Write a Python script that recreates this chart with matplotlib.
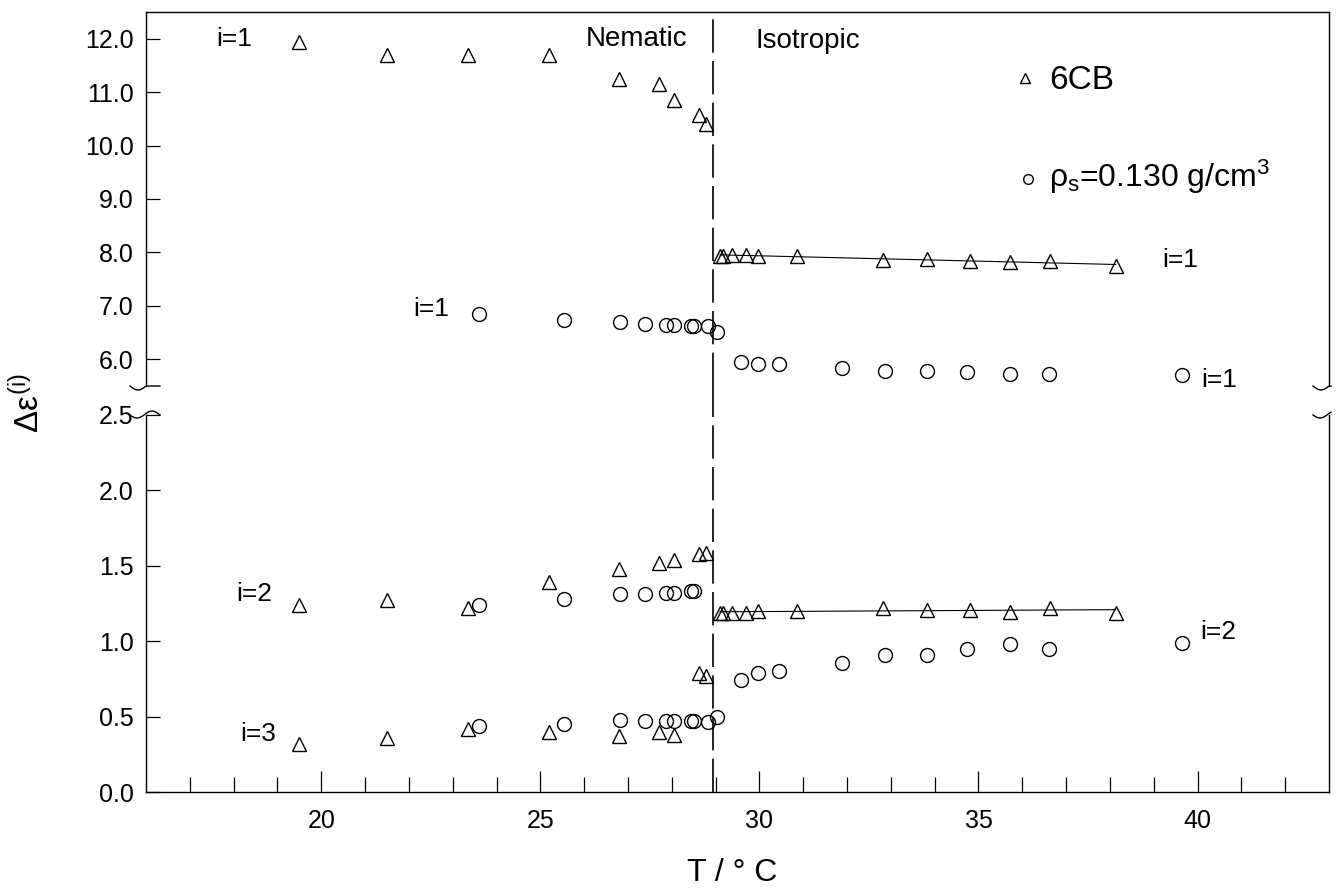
import numpy as np
import matplotlib
matplotlib.use("Agg")
import matplotlib.pyplot as plt
from matplotlib.lines import Line2D
from matplotlib.transforms import blended_transform_factory

plt.rcParams['font.family'] = ['Liberation Sans', 'DejaVu Sans']
plt.rcParams['mathtext.fontset'] = 'custom'
plt.rcParams['mathtext.rm'] = 'Liberation Sans'
plt.rcParams['mathtext.it'] = 'Liberation Sans'
plt.rcParams['mathtext.bf'] = 'Liberation Sans:bold'

# 6CB, nematic phase
T_nem_cb = [19.5, 21.5, 23.35, 25.2, 26.8, 27.7, 28.06, 28.63, 28.77]
cb_nem_1 = [11.93, 11.70, 11.70, 11.70, 11.25, 11.16, 10.86, 10.58, 10.41]
cb_nem_2 = [1.24, 1.27, 1.22, 1.39, 1.48, 1.52, 1.54, 1.58, 1.585]
cb_nem_3 = [0.32, 0.36, 0.42, 0.40, 0.37, 0.40, 0.38, 0.79, 0.77]

# 6CB, isotropic phase
T_iso_cb = [29.10, 29.16, 29.38, 29.70, 29.97, 30.86, 32.83, 33.83, 34.81, 35.72, 36.63, 38.13]
cb_iso_1 = [7.94, 7.94, 7.96, 7.96, 7.93, 7.93, 7.86, 7.87, 7.84, 7.83, 7.84, 7.74]
cb_iso_2 = [1.19, 1.19, 1.19, 1.19, 1.20, 1.20, 1.22, 1.21, 1.21, 1.195, 1.22, 1.19]

# rho_s = 0.130 g/cm3, nematic
T_nem_s = [23.61, 25.53, 26.82, 27.40, 27.86, 28.04, 28.45, 28.51, 28.83, 29.04]
s_nem_1 = [6.84, 6.74, 6.69, 6.66, 6.64, 6.64, 6.63, 6.63, 6.63, 6.52]
s_nem_2 = [1.24, 1.28, 1.31, 1.31, 1.32, 1.32, 1.33, 1.33]
s_nem_3 = [0.44, 0.45, 0.48, 0.47, 0.47, 0.47, 0.47, 0.47, 0.465, 0.50]

# rho_s = 0.130 g/cm3, isotropic
T_iso_s = [29.57, 29.97, 30.45, 31.89, 32.87, 33.83, 34.74, 35.72, 36.60, 39.65]
s_iso_1 = [5.95, 5.91, 5.91, 5.84, 5.78, 5.78, 5.76, 5.73, 5.73, 5.70]
s_iso_2 = [0.74, 0.79, 0.80, 0.855, 0.91, 0.91, 0.95, 0.98, 0.945, 0.99]

T_NI = 28.95

W, H = 1337, 889
fig = plt.figure(figsize=(W / 100, H / 100), dpi=100)

left = 146 / W
width = (1329 - 146) / W
ax_hi = fig.add_axes([left, 1 - 386 / H, width, (386 - 12) / H])
ax_lo = fig.add_axes([left, 1 - 792 / H, width, (792 - 415) / H])

tri = dict(marker='^', ms=10, mfc='none', mec='black', mew=1.0, ls='none')
circ = dict(marker='o', ms=10, mfc='none', mec='black', mew=1.0, ls='none')

# upper part (i=1)
ax_hi.plot(T_nem_cb, cb_nem_1, **tri)
ax_hi.plot(T_iso_cb, cb_iso_1, **tri)
ax_hi.plot(T_nem_s, s_nem_1, **circ)
ax_hi.plot(T_iso_s, s_iso_1, **circ)
k = np.polyfit(T_iso_cb, cb_iso_1, 1)
xs = np.array([T_iso_cb[0], T_iso_cb[-1]])
ax_hi.plot(xs, np.polyval(k, xs), color='black', lw=0.8)

# lower part (i=2, 3)
ax_lo.plot(T_nem_cb, cb_nem_2, **tri)
ax_lo.plot(T_nem_cb, cb_nem_3, **tri)
ax_lo.plot(T_iso_cb, cb_iso_2, **tri)
ax_lo.plot(T_nem_s[:len(s_nem_2)], s_nem_2, **circ)
ax_lo.plot(T_nem_s, s_nem_3, **circ)
ax_lo.plot(T_iso_s, s_iso_2, **circ)
k2 = np.polyfit(T_iso_cb, cb_iso_2, 1)
ax_lo.plot(xs, np.polyval(k2, xs), color='black', lw=0.8)

# transition line
dash = (0, (20, 5))
ax_hi.axvline(T_NI, color='black', lw=1.2, ls=dash)
tr = blended_transform_factory(ax_lo.transData, ax_lo.transAxes)
ax_lo.plot([T_NI, T_NI], [0, 1 + 29 / 377], transform=tr, color='black',
           lw=1.2, ls=dash, clip_on=False)

for ax in (ax_hi, ax_lo):
    ax.set_xlim(16, 43)
    for s in ax.spines.values():
        s.set_linewidth(1.0)
    ax.tick_params(axis='y', direction='in', length=10, width=0.9,
                   labelsize=18, pad=9, right=False)

ax_hi.set_ylim(5.5, 12.5)
ax_hi.set_yticks(np.arange(6, 12.01, 1))
ax_hi.set_yticklabels([f"{v:.1f}" for v in np.arange(6, 12.01, 1)])
ax_hi.spines['bottom'].set_visible(False)
ax_hi.tick_params(axis='x', bottom=False, labelbottom=False, top=False)

ax_lo.set_ylim(0, 2.5)
ax_lo.set_yticks(np.arange(0, 2.51, 0.5))
ax_lo.set_yticklabels([f"{v:.1f}" for v in np.arange(0, 2.51, 0.5)])
ax_lo.spines['top'].set_visible(False)
ax_lo.set_xticks([20, 25, 30, 35, 40])
ax_lo.set_xticks(np.arange(17, 43), minor=True)
ax_lo.tick_params(axis='x', which='major', direction='in', length=15,
                  width=0.9, labelsize=18, pad=12, top=False)
ax_lo.tick_params(axis='x', which='minor', direction='in', length=11,
                  width=0.9, top=False)

# break marks on both spines
def fig_line(px, py):
    fig.add_artist(Line2D(np.asarray(px) / W, 1 - np.asarray(py) / H,
                          color='black', lw=1.0, transform=fig.transFigure))

t = np.linspace(0, 1, 30)
for x0, ext in ((146, 14), (1329, 2)):
    xx = x0 - 16 + t * (16 + ext)
    fig_line(xx, 386 + 4 * np.sin(np.pi * np.clip((xx - (x0 - 16)) / 16, 0, 1)))
    fig_line(xx, 415 - 4 * np.sin(np.pi * np.clip((xx - (x0 - 2)) / 16, 0, 1))
             + 3 * np.sin(np.pi * np.clip((xx - (x0 - 16)) / 14, 0, 1)) * (xx < x0 - 2))

# annotations
lab = dict(fontsize=19, va='center')
ax_hi.text(17.6, 12.0, "i=1", **lab)
ax_hi.text(28.36, 12.0, "Nematic", fontsize=20, va='center', ha='right')
ax_hi.text(29.9, 11.96, "Isotropic", fontsize=20, va='center')
ax_hi.text(22.1, 6.95, "i=1", **lab)
ax_hi.text(39.2, 7.85, "i=1", **lab)
ax_hi.text(40.09, 5.61, "i=1", **lab)
ax_lo.text(18.05, 1.31, "i=2", **lab)
ax_lo.text(18.14, 0.385, "i=3", **lab)
ax_lo.text(40.07, 1.06, "i=2", **lab)

# legend
ax_hi.plot([36.07], [11.27], marker='^', ms=7, mfc='none', mec='black', mew=1.0)
ax_hi.text(36.61, 11.22, "6CB", fontsize=24, va='center')
ax_hi.plot([36.14], [9.38], marker='o', ms=7, mfc='none', mec='black', mew=1.0)
ax_hi.text(36.61, 9.42, r"$\rho_\mathrm{s}$=0.130 g/cm$^3$", fontsize=23, va='center')

fig.text(28 / W, 1 - 403 / H, r"$\Delta\varepsilon^{(\mathrm{i})}$", fontsize=24,
         rotation=90, ha='center', va='center')
fig.text(732 / W, 1 - 873 / H, "T / ° C", fontsize=23, ha='center', va='center')

fig.savefig("out.png", dpi=100)
